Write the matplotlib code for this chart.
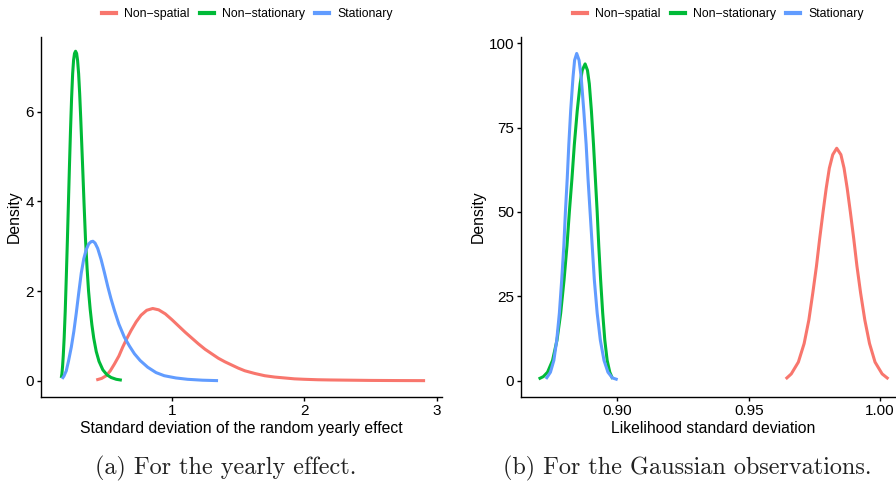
import matplotlib
matplotlib.use('Agg')
import matplotlib.pyplot as plt
from matplotlib.lines import Line2D

plt.rcParams['font.family'] = ['Liberation Sans', 'DejaVu Sans']

# colours used by ggplot's default hue palette
cols = {'Non-spatial': '#F8766D', 'Non-stationary': '#00BA38', 'Stationary': '#619CFF'}
series = ['Non-spatial', 'Non-stationary', 'Stationary']

# ---- (a) sd of the random yearly effect
yr_nonstat_x = [0.165, 0.170, 0.175, 0.180, 0.187, 0.195, 0.203, 0.211, 0.219, 0.227,
                0.235, 0.243, 0.251, 0.258, 0.265, 0.273, 0.281, 0.288, 0.296, 0.304,
                0.312, 0.320, 0.328, 0.337, 0.348, 0.360, 0.371, 0.383, 0.396, 0.410,
                0.429, 0.450, 0.479, 0.510, 0.541, 0.580, 0.622]
yr_nonstat_d = [0.06, 0.15, 0.32, 0.55, 0.95, 1.55, 2.30, 3.10, 3.95, 4.80,
                5.60, 6.30, 6.85, 7.15, 7.30, 7.35, 7.30, 7.15, 6.85, 6.40,
                5.85, 5.25, 4.65, 3.95, 3.15, 2.50, 2.00, 1.60, 1.25, 0.95,
                0.65, 0.43, 0.24, 0.13, 0.07, 0.03, 0.01]

yr_stat_x = [0.171, 0.185, 0.203, 0.220, 0.241, 0.260, 0.278, 0.297, 0.316, 0.335, 0.353,
             0.372, 0.390, 0.404, 0.420, 0.440, 0.466, 0.490, 0.516, 0.540, 0.566, 0.600,
             0.641, 0.680, 0.717, 0.760, 0.817, 0.880, 0.942, 1.030, 1.118, 1.230, 1.348]
yr_stat_d = [0.04, 0.10, 0.22, 0.44, 0.75, 1.10, 1.50, 1.96, 2.40, 2.72, 2.92,
             3.05, 3.10, 3.11, 3.07, 2.95, 2.70, 2.42, 2.10, 1.83, 1.57, 1.26,
             0.97, 0.77, 0.60, 0.45, 0.30, 0.18, 0.11, 0.06, 0.03, 0.01, 0.0]

yr_nonsp_x = [0.429, 0.470, 0.504, 0.535, 0.566, 0.600, 0.629, 0.660, 0.692, 0.730, 0.767,
              0.810, 0.855, 0.900, 0.950, 1.000, 1.050, 1.100, 1.150, 1.200, 1.250, 1.300,
              1.350, 1.400, 1.450, 1.500, 1.550, 1.625, 1.700, 1.775, 1.850, 1.925, 2.000,
              2.100, 2.200, 2.350, 2.500, 2.700, 2.910]
yr_nonsp_d = [0.015, 0.05, 0.11, 0.22, 0.37, 0.55, 0.75, 0.94, 1.12, 1.31, 1.46,
              1.57, 1.61, 1.58, 1.49, 1.36, 1.22, 1.08, 0.95, 0.82, 0.70, 0.60,
              0.50, 0.42, 0.35, 0.28, 0.22, 0.16, 0.11, 0.08, 0.06, 0.04, 0.03,
              0.02, 0.015, 0.01, 0.005, 0.002, 0.0]

# ---- (b) likelihood sd
lk_stat_x = [0.8728, 0.8745, 0.8758, 0.8769, 0.8779, 0.8788, 0.8796, 0.8802, 0.8809,
             0.8815, 0.8822, 0.8831, 0.8837, 0.8845, 0.8854, 0.8862, 0.8872, 0.8881,
             0.8888, 0.8896, 0.8904, 0.8912, 0.8923, 0.8935, 0.8949, 0.8964, 0.8981, 0.9001]
lk_stat_d = [0.5, 2.5, 6.0, 12.0, 20.0, 30.0, 40.0, 50.0, 60.0,
             70.0, 80.0, 90.0, 95.0, 97.0, 95.0, 90.0, 80.0, 70.0,
             60.0, 50.0, 40.0, 30.0, 20.0, 12.0, 6.0, 2.5, 0.8, 0.3]

lk_nonstat_x = [0.8700, 0.8718, 0.8734, 0.8753, 0.8770, 0.8784, 0.8797, 0.8808, 0.8817,
                0.8827, 0.8836, 0.8847, 0.8858, 0.8866, 0.8877, 0.8886, 0.8893, 0.8901,
                0.8909, 0.8916, 0.8923, 0.8929, 0.8936, 0.8944, 0.8952, 0.8961, 0.8971, 0.8982]
lk_nonstat_d = [0.5, 1.2, 2.5, 6.0, 12.0, 20.0, 30.0, 40.0, 50.0,
                60.0, 70.0, 80.0, 88.0, 92.0, 93.9, 92.0, 88.0, 80.0,
                70.0, 60.0, 50.0, 40.0, 30.0, 20.0, 12.0, 6.0, 2.5, 0.5]

lk_nonsp_x = [0.9641, 0.9662, 0.9689, 0.9711, 0.9729, 0.9744, 0.9758, 0.9770, 0.9783,
              0.9795, 0.9807, 0.9820, 0.9835, 0.9851, 0.9863, 0.9875, 0.9887, 0.9900,
              0.9912, 0.9926, 0.9942, 0.9960, 0.9981, 1.0008, 1.0032]
lk_nonsp_d = [0.5, 2.0, 5.5, 11.0, 18.0, 26.0, 34.0, 42.0, 50.0,
              57.0, 63.0, 67.0, 68.9, 67.0, 63.0, 57.0, 50.0, 42.0,
              34.0, 26.0, 18.0, 11.0, 5.5, 2.0, 0.5]

yr_ticks = [0, 2, 4, 6]
yr_xticks = [1, 2, 3]
lk_ticks = [0, 25, 50, 75, 100]
lk_xticks = [0.90, 0.95, 1.00]

fig = plt.figure(figsize=(8.96, 4.87), dpi=100)
ax1 = fig.add_axes([0.0458, 0.1848, 0.4475, 0.739])
ax2 = fig.add_axes([0.5815, 0.1848, 0.4297, 0.739])

lw = 2.2
kw = dict(lw=lw, solid_capstyle='butt', solid_joinstyle='round')
ax1.plot(yr_nonsp_x, yr_nonsp_d, color=cols['Non-spatial'], **kw)
ax1.plot(yr_nonstat_x, yr_nonstat_d, color=cols['Non-stationary'], **kw)
ax1.plot(yr_stat_x, yr_stat_d, color=cols['Stationary'], **kw)
ax1.set_xlim(0.0125, 3.0375)
ax1.set_ylim(-0.365, 7.665)
ax1.set_xticks(yr_xticks)
ax1.set_yticks(yr_ticks)
ax1.set_xlabel('Standard deviation of the random yearly effect', fontsize=11.3, labelpad=2)
ax1.set_ylabel('Density', fontsize=11.3, labelpad=3)

ax2.plot(lk_nonsp_x, lk_nonsp_d, color=cols['Non-spatial'], **kw)
ax2.plot(lk_nonstat_x, lk_nonstat_d, color=cols['Non-stationary'], **kw)
ax2.plot(lk_stat_x, lk_stat_d, color=cols['Stationary'], **kw)
ax2.set_xlim(0.8633, 1.0099)
ax2.set_ylim(-4.85, 101.85)
ax2.set_xticks(lk_xticks)
ax2.set_xticklabels(['%.2f' % v for v in lk_xticks])
ax2.set_yticks(lk_ticks)
ax2.set_xlabel('Likelihood standard deviation', fontsize=11.3, labelpad=2)
ax2.set_ylabel('Density', fontsize=11.3, labelpad=2)

for ax in (ax1, ax2):
    for s in ('top', 'right'):
        ax.spines[s].set_visible(False)
    for s in ('left', 'bottom'):
        ax.spines[s].set_linewidth(1.0)
    ax.tick_params(length=3, width=1.0, pad=2, labelsize=11, colors='black')

handles = [Line2D([], [], color=cols[s], lw=3) for s in series]
labels = [s.replace('-', '\u2212') for s in series]
for cx in (247.5 / 896, 718.5 / 896):
    fig.legend(handles, labels, loc='center', bbox_to_anchor=(cx, 0.971), ncol=3,
               frameon=False, fontsize=8.8, handlelength=1.15, handletextpad=0.7,
               columnspacing=0.8, borderpad=0.2)

fig.text(226 / 896, 0.039, '(a) For the yearly effect.', family='cmr10', fontsize=17.4,
         ha='center', va='center', color='#222222')
fig.text(687.5 / 896, 0.039, '(b) For the Gaussian observations.', family='cmr10',
         fontsize=17.4, ha='center', va='center', color='#222222')

fig.savefig('out.png', dpi=100)
